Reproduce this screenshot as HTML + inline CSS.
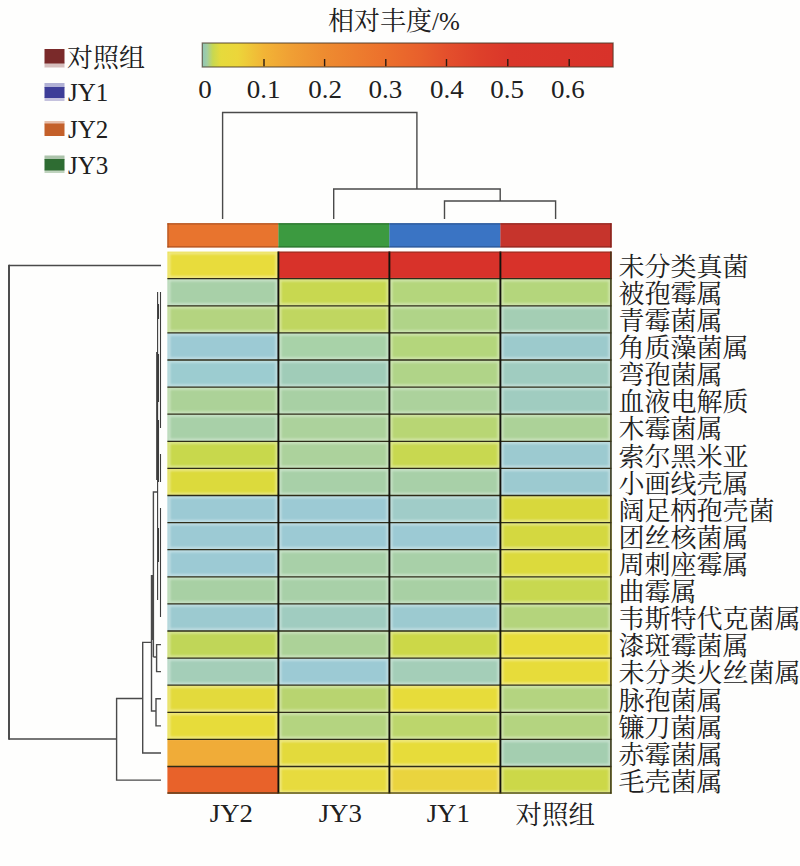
<!DOCTYPE html>
<html lang="zh"><head><meta charset="utf-8"><title>相对丰度热图</title>
<style>html,body{margin:0;padding:0;background:#fefefd;}svg{display:block}text{font-family:"Liberation Serif", "Noto Serif CJK SC", serif;fill:#202020}.t{font-size:25px}.c{font-size:26px}.d{stroke:#4a4a4a;stroke-width:1.4;fill:none}.g{stroke:#26241a;stroke-width:1.6}</style></head><body>
<svg width="800" height="866" viewBox="0 0 800 866">
<defs>
<linearGradient id="cb" x1="0" x2="1" y1="0" y2="0"><stop offset="0" stop-color="#8fc6b8"/><stop offset="0.012" stop-color="#a4cea0"/><stop offset="0.026" stop-color="#c8d850"/><stop offset="0.045" stop-color="#e6da3c"/><stop offset="0.086" stop-color="#ecd63a"/><stop offset="0.15" stop-color="#f2b436"/><stop offset="0.213" stop-color="#f0a034"/><stop offset="0.295" stop-color="#ee8c30"/><stop offset="0.445" stop-color="#ec702c"/><stop offset="0.53" stop-color="#e8602c"/><stop offset="0.593" stop-color="#e4502c"/><stop offset="0.675" stop-color="#de402a"/><stop offset="0.75" stop-color="#da362a"/><stop offset="1" stop-color="#d8322a"/></linearGradient>
<filter id="bl" x="-20%" y="-20%" width="140%" height="140%"><feGaussianBlur stdDeviation="0.7"/></filter>
<filter id="gl" x="-2%" y="-2%" width="104%" height="104%"><feGaussianBlur stdDeviation="0.8"/></filter>
</defs>
<rect width="800" height="866" fill="#fefefd"/>
<text class="c" x="394" y="29.5" text-anchor="middle">相对丰度<tspan style="font-size:25px">/%</tspan></text>
<rect x="202.3" y="43" width="410.8" height="24" fill="url(#cb)"/>
<rect x="202.3" y="43" width="410.8" height="24" fill="none" stroke="#4a3a28" stroke-opacity=".7" stroke-width="1.3"/>
<line x1="264.0" y1="59" x2="264.0" y2="66.3" stroke="#2a1a10" stroke-width="1.4"/>
<line x1="324.6" y1="59" x2="324.6" y2="66.3" stroke="#2a1a10" stroke-width="1.4"/>
<line x1="385.8" y1="59" x2="385.8" y2="66.3" stroke="#2a1a10" stroke-width="1.4"/>
<line x1="446.5" y1="59" x2="446.5" y2="66.3" stroke="#2a1a10" stroke-width="1.4"/>
<line x1="507.8" y1="59" x2="507.8" y2="66.3" stroke="#2a1a10" stroke-width="1.4"/>
<line x1="569.2" y1="59" x2="569.2" y2="66.3" stroke="#2a1a10" stroke-width="1.4"/>
<text class="t" transform="translate(205.1 97.5) scale(1.08 1)" text-anchor="middle">0</text>
<text class="t" transform="translate(263.6 97.5) scale(1.08 1)" text-anchor="middle">0.1</text>
<text class="t" transform="translate(325.2 97.5) scale(1.08 1)" text-anchor="middle">0.2</text>
<text class="t" transform="translate(385.3 97.5) scale(1.08 1)" text-anchor="middle">0.3</text>
<text class="t" transform="translate(446.9 97.5) scale(1.08 1)" text-anchor="middle">0.4</text>
<text class="t" transform="translate(507.1 97.5) scale(1.08 1)" text-anchor="middle">0.5</text>
<text class="t" transform="translate(567.9 97.5) scale(1.08 1)" text-anchor="middle">0.6</text>
<g filter="url(#bl)">
<rect x="44.5" y="62.5" width="20" height="5.0" fill="#7a2a2c" fill-opacity=".3"/>
<rect x="44.5" y="49.0" width="20" height="14.5" fill="#7a2a2c"/>
<rect x="44.5" y="83.0" width="20" height="5.0" fill="#3e3c98" fill-opacity=".4"/>
<rect x="44.5" y="97.0" width="20" height="4.0" fill="#3e3c98" fill-opacity=".3"/>
<rect x="44.5" y="87.0" width="20" height="11.0" fill="#3e3c98"/>
<rect x="44.5" y="121.0" width="20" height="3.5" fill="#c4602c" fill-opacity=".4"/>
<rect x="44.5" y="123.5" width="20" height="12.5" fill="#c4602c"/>
<rect x="44.5" y="155.5" width="20" height="4.5" fill="#2e6c30" fill-opacity=".4"/>
<rect x="44.5" y="169.5" width="20" height="3.5" fill="#2e6c30" fill-opacity=".3"/>
<rect x="44.5" y="159.0" width="20" height="11.5" fill="#2e6c30"/>
</g>
<text class="c" x="67.0" y="66.5">对照组</text>
<text class="t" x="68.0" y="100.5">JY1</text>
<text class="t" x="68.0" y="137.5">JY2</text>
<text class="t" x="68.0" y="173.5">JY3</text>
<path class="d" d="M222.6 219V112.5H416.9V189 M333.7 219V189H500.2V201 M444.5 219V201H555.6V219"/>
<rect x="167.4" y="223.2" width="111.2" height="24.2" fill="#e8742e"/>
<path d="M167.4 223.8H278.4 M167.4 246.8H278.4" stroke="#a24c1e" stroke-width="1.3" stroke-opacity=".8"/>
<rect x="278.4" y="223.2" width="111.2" height="24.2" fill="#3c9a40"/>
<path d="M278.4 223.8H389.4 M278.4 246.8H389.4" stroke="#276a2a" stroke-width="1.3" stroke-opacity=".8"/>
<rect x="389.4" y="223.2" width="111.2" height="24.2" fill="#3a74c4"/>
<path d="M389.4 223.8H500.4 M389.4 246.8H500.4" stroke="#28508c" stroke-width="1.3" stroke-opacity=".8"/>
<rect x="500.4" y="223.2" width="111.2" height="24.2" fill="#c6342c"/>
<path d="M500.4 223.8H611.4 M500.4 246.8H611.4" stroke="#84261e" stroke-width="1.3" stroke-opacity=".8"/>
<path d="M168.0 223.2V247.4" stroke="#a24c1e" stroke-width="1.2" stroke-opacity=".8"/>
<path d="M610.9 223.2V247.4" stroke="#84261e" stroke-width="1.6" stroke-opacity=".9"/>
<rect x="167.40" y="251.60" width="111.30" height="27.40" fill="#e8dc3c"/>
<rect x="278.40" y="251.60" width="111.30" height="27.40" fill="#d8322a"/>
<rect x="389.40" y="251.60" width="111.30" height="27.40" fill="#d8322a"/>
<rect x="500.40" y="251.60" width="111.30" height="27.40" fill="#d8322a"/>
<rect x="167.40" y="278.70" width="111.30" height="27.40" fill="#a8d0a8"/>
<rect x="278.40" y="278.70" width="111.30" height="27.40" fill="#c8d850"/>
<rect x="389.40" y="278.70" width="111.30" height="27.40" fill="#b4d67c"/>
<rect x="500.40" y="278.70" width="111.30" height="27.40" fill="#b4d67c"/>
<rect x="167.40" y="305.80" width="111.30" height="27.40" fill="#b4d480"/>
<rect x="278.40" y="305.80" width="111.30" height="27.40" fill="#c0d660"/>
<rect x="389.40" y="305.80" width="111.30" height="27.40" fill="#b0d488"/>
<rect x="500.40" y="305.80" width="111.30" height="27.40" fill="#a4ceb4"/>
<rect x="167.40" y="332.90" width="111.30" height="27.40" fill="#9ccad4"/>
<rect x="278.40" y="332.90" width="111.30" height="27.40" fill="#a8d2a8"/>
<rect x="389.40" y="332.90" width="111.30" height="27.40" fill="#b4d67c"/>
<rect x="500.40" y="332.90" width="111.30" height="27.40" fill="#9ccacc"/>
<rect x="167.40" y="360.00" width="111.30" height="27.40" fill="#9cccd0"/>
<rect x="278.40" y="360.00" width="111.30" height="27.40" fill="#a0ccb8"/>
<rect x="389.40" y="360.00" width="111.30" height="27.40" fill="#b0d488"/>
<rect x="500.40" y="360.00" width="111.30" height="27.40" fill="#a0ccc0"/>
<rect x="167.40" y="387.10" width="111.30" height="27.40" fill="#acd298"/>
<rect x="278.40" y="387.10" width="111.30" height="27.40" fill="#a8d0a4"/>
<rect x="389.40" y="387.10" width="111.30" height="27.40" fill="#acd29c"/>
<rect x="500.40" y="387.10" width="111.30" height="27.40" fill="#a0ccc0"/>
<rect x="167.40" y="414.20" width="111.30" height="27.40" fill="#a8d0a8"/>
<rect x="278.40" y="414.20" width="111.30" height="27.40" fill="#acd29c"/>
<rect x="389.40" y="414.20" width="111.30" height="27.40" fill="#b8d674"/>
<rect x="500.40" y="414.20" width="111.30" height="27.40" fill="#acd298"/>
<rect x="167.40" y="441.30" width="111.30" height="27.40" fill="#c8d84c"/>
<rect x="278.40" y="441.30" width="111.30" height="27.40" fill="#acd29c"/>
<rect x="389.40" y="441.30" width="111.30" height="27.40" fill="#c8d850"/>
<rect x="500.40" y="441.30" width="111.30" height="27.40" fill="#9ccad0"/>
<rect x="167.40" y="468.40" width="111.30" height="27.40" fill="#dcda3c"/>
<rect x="278.40" y="468.40" width="111.30" height="27.40" fill="#a8d0a8"/>
<rect x="389.40" y="468.40" width="111.30" height="27.40" fill="#a8d0a8"/>
<rect x="500.40" y="468.40" width="111.30" height="27.40" fill="#9ccad0"/>
<rect x="167.40" y="495.50" width="111.30" height="27.40" fill="#9ccad4"/>
<rect x="278.40" y="495.50" width="111.30" height="27.40" fill="#9ccad4"/>
<rect x="389.40" y="495.50" width="111.30" height="27.40" fill="#a0ccc8"/>
<rect x="500.40" y="495.50" width="111.30" height="27.40" fill="#d8d83c"/>
<rect x="167.40" y="522.60" width="111.30" height="27.40" fill="#9ccad4"/>
<rect x="278.40" y="522.60" width="111.30" height="27.40" fill="#9ccad4"/>
<rect x="389.40" y="522.60" width="111.30" height="27.40" fill="#9ccad4"/>
<rect x="500.40" y="522.60" width="111.30" height="27.40" fill="#d4d840"/>
<rect x="167.40" y="549.70" width="111.30" height="27.40" fill="#9ccad4"/>
<rect x="278.40" y="549.70" width="111.30" height="27.40" fill="#a8d0a8"/>
<rect x="389.40" y="549.70" width="111.30" height="27.40" fill="#a8d0a8"/>
<rect x="500.40" y="549.70" width="111.30" height="27.40" fill="#dcda3c"/>
<rect x="167.40" y="576.80" width="111.30" height="27.40" fill="#a8d0a4"/>
<rect x="278.40" y="576.80" width="111.30" height="27.40" fill="#a8d0a8"/>
<rect x="389.40" y="576.80" width="111.30" height="27.40" fill="#a8d0a4"/>
<rect x="500.40" y="576.80" width="111.30" height="27.40" fill="#c8d850"/>
<rect x="167.40" y="603.90" width="111.30" height="27.40" fill="#9ccad0"/>
<rect x="278.40" y="603.90" width="111.30" height="27.40" fill="#a0ccc0"/>
<rect x="389.40" y="603.90" width="111.30" height="27.40" fill="#9ccad0"/>
<rect x="500.40" y="603.90" width="111.30" height="27.40" fill="#b4d47c"/>
<rect x="167.40" y="631.00" width="111.30" height="27.40" fill="#c0d658"/>
<rect x="278.40" y="631.00" width="111.30" height="27.40" fill="#acd298"/>
<rect x="389.40" y="631.00" width="111.30" height="27.40" fill="#ccd848"/>
<rect x="500.40" y="631.00" width="111.30" height="27.40" fill="#e7dc3a"/>
<rect x="167.40" y="658.10" width="111.30" height="27.40" fill="#a4ceb8"/>
<rect x="278.40" y="658.10" width="111.30" height="27.40" fill="#9ccad4"/>
<rect x="389.40" y="658.10" width="111.30" height="27.40" fill="#a4ceb8"/>
<rect x="500.40" y="658.10" width="111.30" height="27.40" fill="#e7dc3a"/>
<rect x="167.40" y="685.20" width="111.30" height="27.40" fill="#e3da3c"/>
<rect x="278.40" y="685.20" width="111.30" height="27.40" fill="#b8d470"/>
<rect x="389.40" y="685.20" width="111.30" height="27.40" fill="#e7dc3a"/>
<rect x="500.40" y="685.20" width="111.30" height="27.40" fill="#b4d480"/>
<rect x="167.40" y="712.30" width="111.30" height="27.40" fill="#e7dc3a"/>
<rect x="278.40" y="712.30" width="111.30" height="27.40" fill="#b4d480"/>
<rect x="389.40" y="712.30" width="111.30" height="27.40" fill="#bcd66c"/>
<rect x="500.40" y="712.30" width="111.30" height="27.40" fill="#b4d480"/>
<rect x="167.40" y="739.40" width="111.30" height="27.40" fill="#f0ac38"/>
<rect x="278.40" y="739.40" width="111.30" height="27.40" fill="#e3da3c"/>
<rect x="389.40" y="739.40" width="111.30" height="27.40" fill="#e7dc3a"/>
<rect x="500.40" y="739.40" width="111.30" height="27.40" fill="#a4ceb0"/>
<rect x="167.40" y="766.50" width="111.30" height="27.40" fill="#e8622a"/>
<rect x="278.40" y="766.50" width="111.30" height="27.40" fill="#e7db3e"/>
<rect x="389.40" y="766.50" width="111.30" height="27.40" fill="#ead43e"/>
<rect x="500.40" y="766.50" width="111.30" height="27.40" fill="#ccd848"/>
<g filter="url(#gl)" fill="none" stroke="#fff" stroke-opacity=".42" stroke-width="2.2">
<rect x="169.10" y="253.10" width="107.60" height="24.10"/>
<rect x="169.10" y="280.20" width="107.60" height="24.10"/>
<rect x="280.10" y="280.20" width="107.60" height="24.10"/>
<rect x="391.10" y="280.20" width="107.60" height="24.10"/>
<rect x="502.10" y="280.20" width="107.60" height="24.10"/>
<rect x="169.10" y="307.30" width="107.60" height="24.10"/>
<rect x="280.10" y="307.30" width="107.60" height="24.10"/>
<rect x="391.10" y="307.30" width="107.60" height="24.10"/>
<rect x="502.10" y="307.30" width="107.60" height="24.10"/>
<rect x="169.10" y="334.40" width="107.60" height="24.10"/>
<rect x="280.10" y="334.40" width="107.60" height="24.10"/>
<rect x="391.10" y="334.40" width="107.60" height="24.10"/>
<rect x="502.10" y="334.40" width="107.60" height="24.10"/>
<rect x="169.10" y="361.50" width="107.60" height="24.10"/>
<rect x="280.10" y="361.50" width="107.60" height="24.10"/>
<rect x="391.10" y="361.50" width="107.60" height="24.10"/>
<rect x="502.10" y="361.50" width="107.60" height="24.10"/>
<rect x="169.10" y="388.60" width="107.60" height="24.10"/>
<rect x="280.10" y="388.60" width="107.60" height="24.10"/>
<rect x="391.10" y="388.60" width="107.60" height="24.10"/>
<rect x="502.10" y="388.60" width="107.60" height="24.10"/>
<rect x="169.10" y="415.70" width="107.60" height="24.10"/>
<rect x="280.10" y="415.70" width="107.60" height="24.10"/>
<rect x="391.10" y="415.70" width="107.60" height="24.10"/>
<rect x="502.10" y="415.70" width="107.60" height="24.10"/>
<rect x="169.10" y="442.80" width="107.60" height="24.10"/>
<rect x="280.10" y="442.80" width="107.60" height="24.10"/>
<rect x="391.10" y="442.80" width="107.60" height="24.10"/>
<rect x="502.10" y="442.80" width="107.60" height="24.10"/>
<rect x="169.10" y="469.90" width="107.60" height="24.10"/>
<rect x="280.10" y="469.90" width="107.60" height="24.10"/>
<rect x="391.10" y="469.90" width="107.60" height="24.10"/>
<rect x="502.10" y="469.90" width="107.60" height="24.10"/>
<rect x="169.10" y="497.00" width="107.60" height="24.10"/>
<rect x="280.10" y="497.00" width="107.60" height="24.10"/>
<rect x="391.10" y="497.00" width="107.60" height="24.10"/>
<rect x="502.10" y="497.00" width="107.60" height="24.10"/>
<rect x="169.10" y="524.10" width="107.60" height="24.10"/>
<rect x="280.10" y="524.10" width="107.60" height="24.10"/>
<rect x="391.10" y="524.10" width="107.60" height="24.10"/>
<rect x="502.10" y="524.10" width="107.60" height="24.10"/>
<rect x="169.10" y="551.20" width="107.60" height="24.10"/>
<rect x="280.10" y="551.20" width="107.60" height="24.10"/>
<rect x="391.10" y="551.20" width="107.60" height="24.10"/>
<rect x="502.10" y="551.20" width="107.60" height="24.10"/>
<rect x="169.10" y="578.30" width="107.60" height="24.10"/>
<rect x="280.10" y="578.30" width="107.60" height="24.10"/>
<rect x="391.10" y="578.30" width="107.60" height="24.10"/>
<rect x="502.10" y="578.30" width="107.60" height="24.10"/>
<rect x="169.10" y="605.40" width="107.60" height="24.10"/>
<rect x="280.10" y="605.40" width="107.60" height="24.10"/>
<rect x="391.10" y="605.40" width="107.60" height="24.10"/>
<rect x="502.10" y="605.40" width="107.60" height="24.10"/>
<rect x="169.10" y="632.50" width="107.60" height="24.10"/>
<rect x="280.10" y="632.50" width="107.60" height="24.10"/>
<rect x="391.10" y="632.50" width="107.60" height="24.10"/>
<rect x="502.10" y="632.50" width="107.60" height="24.10"/>
<rect x="169.10" y="659.60" width="107.60" height="24.10"/>
<rect x="280.10" y="659.60" width="107.60" height="24.10"/>
<rect x="391.10" y="659.60" width="107.60" height="24.10"/>
<rect x="502.10" y="659.60" width="107.60" height="24.10"/>
<rect x="169.10" y="686.70" width="107.60" height="24.10"/>
<rect x="280.10" y="686.70" width="107.60" height="24.10"/>
<rect x="391.10" y="686.70" width="107.60" height="24.10"/>
<rect x="502.10" y="686.70" width="107.60" height="24.10"/>
<rect x="169.10" y="713.80" width="107.60" height="24.10"/>
<rect x="280.10" y="713.80" width="107.60" height="24.10"/>
<rect x="391.10" y="713.80" width="107.60" height="24.10"/>
<rect x="502.10" y="713.80" width="107.60" height="24.10"/>
<rect x="280.10" y="740.90" width="107.60" height="24.10"/>
<rect x="391.10" y="740.90" width="107.60" height="24.10"/>
<rect x="502.10" y="740.90" width="107.60" height="24.10"/>
<rect x="280.10" y="768.00" width="107.60" height="24.10"/>
<rect x="391.10" y="768.00" width="107.60" height="24.10"/>
<rect x="502.10" y="768.00" width="107.60" height="24.10"/>
</g>
<line x1="167.4" y1="278.70" x2="611.4" y2="278.70" stroke="#2e2c18" stroke-width="1.3"/>
<line x1="167.4" y1="305.80" x2="611.4" y2="305.80" stroke="#2e2c18" stroke-width="1.3"/>
<line x1="167.4" y1="332.90" x2="611.4" y2="332.90" stroke="#2e2c18" stroke-width="1.3"/>
<line x1="167.4" y1="360.00" x2="611.4" y2="360.00" stroke="#2e2c18" stroke-width="1.3"/>
<line x1="167.4" y1="387.10" x2="611.4" y2="387.10" stroke="#2e2c18" stroke-width="1.3"/>
<line x1="167.4" y1="414.20" x2="611.4" y2="414.20" stroke="#2e2c18" stroke-width="1.3"/>
<line x1="167.4" y1="441.30" x2="611.4" y2="441.30" stroke="#2e2c18" stroke-width="1.3"/>
<line x1="167.4" y1="468.40" x2="611.4" y2="468.40" stroke="#2e2c18" stroke-width="1.3"/>
<line x1="167.4" y1="495.50" x2="611.4" y2="495.50" stroke="#2e2c18" stroke-width="1.3"/>
<line x1="167.4" y1="522.60" x2="611.4" y2="522.60" stroke="#2e2c18" stroke-width="1.3"/>
<line x1="167.4" y1="549.70" x2="611.4" y2="549.70" stroke="#2e2c18" stroke-width="1.3"/>
<line x1="167.4" y1="576.80" x2="611.4" y2="576.80" stroke="#2e2c18" stroke-width="1.3"/>
<line x1="167.4" y1="603.90" x2="611.4" y2="603.90" stroke="#2e2c18" stroke-width="1.3"/>
<line x1="167.4" y1="631.00" x2="611.4" y2="631.00" stroke="#2e2c18" stroke-width="1.3"/>
<line x1="167.4" y1="658.10" x2="611.4" y2="658.10" stroke="#2e2c18" stroke-width="1.3"/>
<line x1="167.4" y1="685.20" x2="611.4" y2="685.20" stroke="#2e2c18" stroke-width="1.3"/>
<line x1="167.4" y1="712.30" x2="611.4" y2="712.30" stroke="#2e2c18" stroke-width="1.3"/>
<line x1="167.4" y1="739.40" x2="611.4" y2="739.40" stroke="#2e2c18" stroke-width="1.3"/>
<line x1="167.4" y1="766.50" x2="611.4" y2="766.50" stroke="#2e2c18" stroke-width="1.3"/>
<line x1="278.40" y1="251.6" x2="278.40" y2="793.6" stroke="#14120c" stroke-width="1.9"/>
<line x1="389.40" y1="251.6" x2="389.40" y2="793.6" stroke="#14120c" stroke-width="1.9"/>
<line x1="500.40" y1="251.6" x2="500.40" y2="793.6" stroke="#14120c" stroke-width="1.9"/>
<path d="M278.4 252.1H611.4" stroke="#5a2a18" stroke-opacity=".55" stroke-width="1" fill="none"/>
<path d="M610.9 251.6V793.8" stroke="#3a3418" stroke-opacity=".85" stroke-width="1.8" fill="none"/>
<path d="M167.4 793.0H611.4" stroke="#3a3418" stroke-opacity=".8" stroke-width="1.4" fill="none"/>
<text class="c" x="618.5" y="275.8">未分类真菌</text>
<text class="c" x="618.5" y="302.9">被孢霉属</text>
<text class="c" x="618.5" y="330.1">青霉菌属</text>
<text class="c" x="618.5" y="357.1">角质藻菌属</text>
<text class="c" x="618.5" y="384.2">弯孢菌属</text>
<text class="c" x="618.5" y="411.3">血液电解质</text>
<text class="c" x="618.5" y="438.4">木霉菌属</text>
<text class="c" x="618.5" y="465.6">索尔黑米亚</text>
<text class="c" x="618.5" y="492.7">小画线壳属</text>
<text class="c" x="618.5" y="519.8">阔足柄孢壳菌</text>
<text class="c" x="618.5" y="546.9">团丝核菌属</text>
<text class="c" x="618.5" y="574.0">周刺座霉属</text>
<text class="c" x="618.5" y="601.1">曲霉属</text>
<text class="c" x="618.5" y="628.2">韦斯特代克菌属</text>
<text class="c" x="618.5" y="655.3">漆斑霉菌属</text>
<text class="c" x="618.5" y="682.4">未分类火丝菌属</text>
<text class="c" x="618.5" y="709.5">脉孢菌属</text>
<text class="c" x="618.5" y="736.6">镰刀菌属</text>
<text class="c" x="618.5" y="763.7">赤霉菌属</text>
<text class="c" x="618.5" y="790.8">毛壳菌属</text>
<text class="t" transform="translate(231.3 821.6) scale(1.07 1.02)" text-anchor="middle">JY2</text>
<text class="t" transform="translate(340.2 821.6) scale(1.07 1.02)" text-anchor="middle">JY3</text>
<text class="t" transform="translate(448.2 821.6) scale(1.07 1.02)" text-anchor="middle">JY1</text>
<text class="c" transform="translate(555.3 823.8) scale(1.02 1)" text-anchor="middle">对照组</text>
<path class="d" d="M161 265.5H9 M9 739H116.6 M161 780.1H116.6V698.5H142.7 M161 753.0H142.7V642.4H152 M161 698.8H156V725.9H161 M156 711H151.5V575 M161 644.6H156.6V671.6H161 M156.6 657H153.4 M153.4 657V492H157.5 M152.4 640V575"/>
<path d="M9 264.8V739.7" stroke="#454545" stroke-width="1.9" fill="none"/>
<path d="M157.6 292V600 M158.5 304V319 M158.5 354V402 M158.5 420V482 M158.5 528V562 M160.5 292V428 M160.5 454V482 M160.5 508V617 M156.7 352V480" stroke="#3c3c3c" stroke-width="1.1" fill="none"/>
</svg></body></html>
